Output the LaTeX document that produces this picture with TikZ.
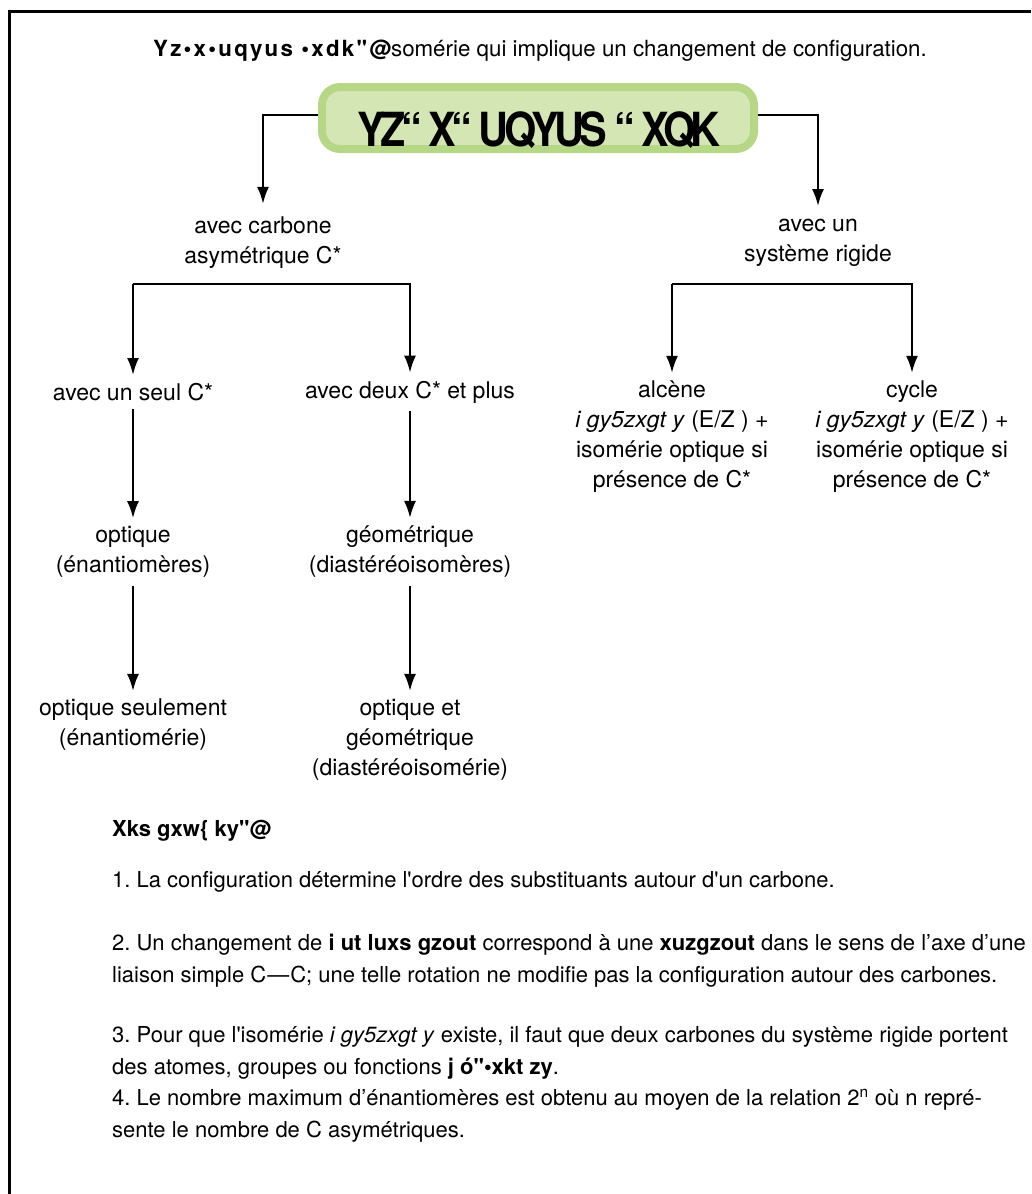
\documentclass[tikz,border=0pt]{standalone}
\usepackage{fontspec}
\newfontfamily\helv{TeX Gyre Heros}
\usetikzlibrary{arrows.meta}
\definecolor{vertfond}{HTML}{D3E6B4}
\definecolor{vertbord}{HTML}{B6D886}
\frenchspacing

\begin{document}
\begin{tikzpicture}[x=1pt,y=-1pt,
	txt/.style={align=center,font=\helv\fontsize{23}{30}\selectfont,inner sep=8pt},
	fleche/.style={-{Latex[length=17pt,width=12pt]},line width=2.3pt},
	boite/.style={draw=vertbord,fill=vertfond,line width=8pt,rounded corners=18pt,minimum width=432pt,minimum height=62pt},
	note/.style={anchor=base west,align=left,font=\helv\fontsize{22}{32}\selectfont,inner sep=0pt}]
	\useasboundingbox (0,0) rectangle (1031,1194);
	% cadre
	\draw[line width=3pt] (1031,11) -- (9,11) -- (9,1194);
	\node[anchor=base,font=\helv\fontsize{22.3}{30}\selectfont] (defin) at (540,56) {{\bfseries\addfontfeatures{LetterSpace=10}Yz•x•uqyus •xdk"@}somérie qui implique un changement de configuration.};
	\node[boite] (titre) at (538,118) {};
	\node[anchor=base,font=\helv\fontsize{47}{47}\selectfont\bfseries\addfontfeatures{FakeStretch=0.88,LetterSpace=-10}] (titretxt) at (539,146) {YZ“ X“ UQYUS “ XQK};
	% premier niveau
	\node[txt] (carb) at (263,243) {avec carbone\\asymétrique C*};
	\node[txt] (rigide) at (818,243) {avec un\\système rigide};
	\draw[fleche,shorten >=5pt] ([yshift=3pt]titre.west) -| (carb.north);
	\draw[fleche,shorten >=5pt] ([yshift=3pt]titre.east) -| (rigide.north);
	% carbone asymetrique
	\node[txt] (seul) at (133,392) {avec un seul C*};
	\node[txt] (deux) at (410,392) {avec deux C* et plus};
	\coordinate (bL) at (133,284);
	\coordinate (bR) at (410,284);
	\draw[fleche] (bL) -- (seul.north);
	\draw[fleche] (bL) -- (bR) -- (deux.north);
	\node[txt] (opt) at (133,552) {optique\\(énantiomères)};
	\node[txt] (geo) at (410,552) {géométrique\\(diastéréoisomères)};
	\draw[fleche] (seul) -- (opt);
	\draw[fleche] (deux) -- (geo);
	\node[txt] (optseul) at (133,725) {optique seulement\\(énantiomérie)};
	\node[txt] (optgeo) at (410,740) {optique et\\géométrique\\(diastéréoisomérie)};
	\draw[fleche] (opt) -- (optseul);
	\draw[fleche] (geo) -- (geo |- optseul.north);
	% systeme rigide
	\node[txt] (alcene) at (672,437) {alcène\\\textit{i gy5zxgt y} (E/Z ) +\\isomérie optique si\\présence de C*};
	\node[txt] (cycle) at (912,437) {cycle\\\textit{i gy5zxgt y} (E/Z ) +\\isomérie optique si\\présence de C*};
	\coordinate (cL) at (672,284);
	\coordinate (cR) at (912,284);
	\draw[fleche] (cL) -- (alcene.north);
	\draw[fleche] (cL) -- (cR) -- (cycle.north);
	% remarques
	\node[note] (rq) at (112,836) {\textbf{Xks gxw\{ ky"@}};
	\node[note] (rq1) at (112,887) {1. La configuration détermine l'ordre des substituants autour d'un carbone.};
	\node[note] (rq2) at (112,982) {2. Un changement de \textbf{i ut luxs gzout} correspond à une \textbf{xuzgzout} dans le sens de l’axe d’une\\liaison simple C\kern1pt—\kern1ptC; une telle rotation ne modifie pas la configuration autour des carbones.};
	\node[note] (rq3) at (112,1074) {3. Pour que l'isomérie \textit{i gy5zxgt y} existe, il faut que deux carbones du système rigide portent\\des atomes, groupes ou fonctions \textbf{j ó"•xkt zy}.};
	\node[note] (rq4) at (112,1137) {4. Le nombre maximum d’énantiomères est obtenu au moyen de la relation 2\textsuperscript{n} où n repré-\\sente le nombre de C asymétriques.};
\end{tikzpicture}
\end{document}
